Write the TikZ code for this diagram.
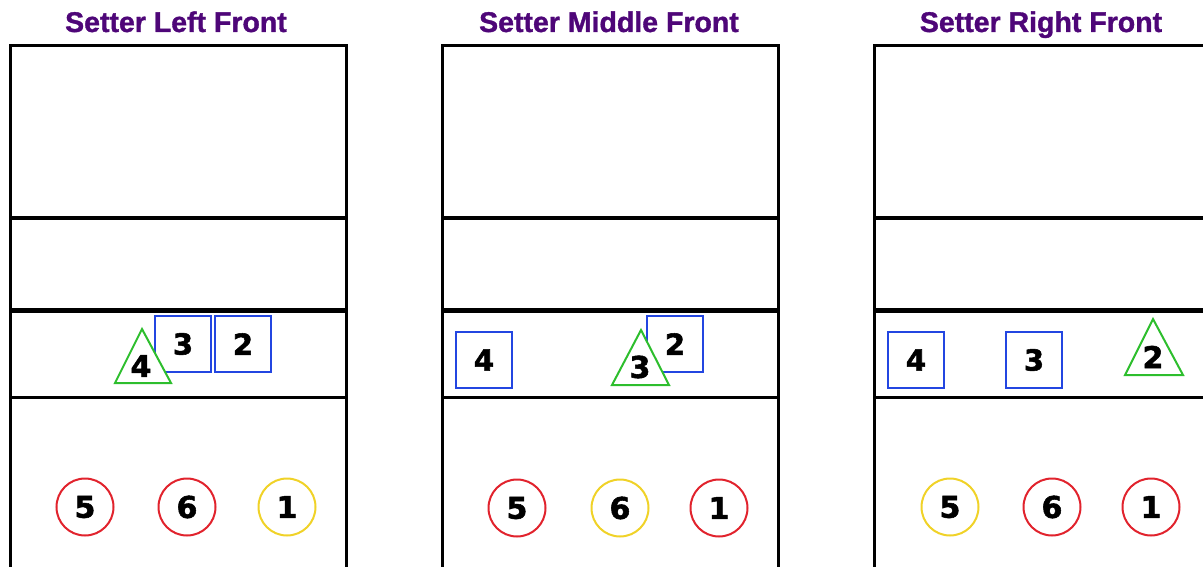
\documentclass[tikz,border=0pt]{standalone}
\usepackage{fontspec}
\setmainfont{Liberation Sans}[BoldFeatures={FakeBold=1.2}]
\newfontfamily\digitfont{DejaVu Sans}[BoldFeatures={FakeBold=1.8}]
\definecolor{ttlpurple}{RGB}{78,6,120}
\definecolor{sqblue}{RGB}{35,70,225}
\definecolor{trigreen}{RGB}{45,190,45}
\definecolor{cirred}{RGB}{225,35,45}
\definecolor{ciryellow}{RGB}{240,210,40}
\begin{document}
\begin{tikzpicture}[x=1pt,y=-1pt,
  title/.style={text=ttlpurple,font=\fontsize{28.5}{30}\selectfont\bfseries,inner sep=0,anchor=base},
  num/.style={font=\digitfont\fontsize{30}{32}\selectfont\bfseries,inner sep=0},
  sqbox/.style={draw=sqblue,line width=2pt,minimum size=56pt,inner sep=0,fill=white,font=\digitfont\fontsize{29}{32}\selectfont\bfseries},
  tri/.style={draw=trigreen,line width=2pt,fill=white,line join=miter},
  redc/.style={circle,draw=cirred,line width=2pt,minimum size=57pt,inner sep=0,font=\digitfont\fontsize{30}{32}\selectfont\bfseries},
  yelc/.style={circle,draw=ciryellow,line width=2pt,minimum size=57pt,inner sep=0,font=\digitfont\fontsize{30}{32}\selectfont\bfseries},
  courtline/.style={draw=black,line width=3pt},
  netline/.style={draw=black,line width=5pt}
]
\useasboundingbox (0,0) rectangle (1203,567);
\clip (0,0) rectangle (1203,567);
% titles
\node[title] (h1) at (176,32) {Setter Left Front};
\node[title] (h2) at (609,32) {Setter Middle Front};
\node[title] (h3) at (1041,32) {Setter Right Front};
% courts
\foreach \ox in {0,432,864}{
  \draw[courtline] (10+\ox,620) -- (10+\ox,46) -- (346+\ox,46) -- (346+\ox,620);
  \draw[courtline] (10+\ox,218) -- (346+\ox,218);
  \draw[netline] (10+\ox,310) -- (346+\ox,310);
  \draw[courtline] (10+\ox,397) -- (346+\ox,397);
}
% court 1
\node[sqbox] (a3) at (183,344) {3};
\node[sqbox] (a2) at (243,344) {2};
\draw[tri] (142,329) -- (115,383) -- (171,383) -- cycle;
\node[num] (a4) at (141,366) {4};
\node[redc] (a5) at (85,507) {5};
\node[redc] (a6) at (187,507) {6};
\node[yelc] (a1) at (287,507) {1};
% court 2
\node[sqbox] (b4) at (484,360) {4};
\node[sqbox] (b2) at (675,344) {2};
\draw[tri] (641,330) -- (612,385) -- (669,385) -- cycle;
\node[num] (b3) at (640,367) {3};
\node[redc] (b5) at (517,508) {5};
\node[yelc] (b6) at (620,508) {6};
\node[redc] (b1) at (719,508) {1};
% court 3
\node[sqbox] (c4) at (916,360) {4};
\node[sqbox] (c3) at (1034,360) {3};
\draw[tri] (1153,319) -- (1125,375) -- (1183,375) -- cycle;
\node[num] (c2) at (1153,357) {2};
\node[yelc] (c5) at (950,507) {5};
\node[redc] (c6) at (1052,507) {6};
\node[redc] (c1) at (1151,507) {1};
\end{tikzpicture}
\end{document}
